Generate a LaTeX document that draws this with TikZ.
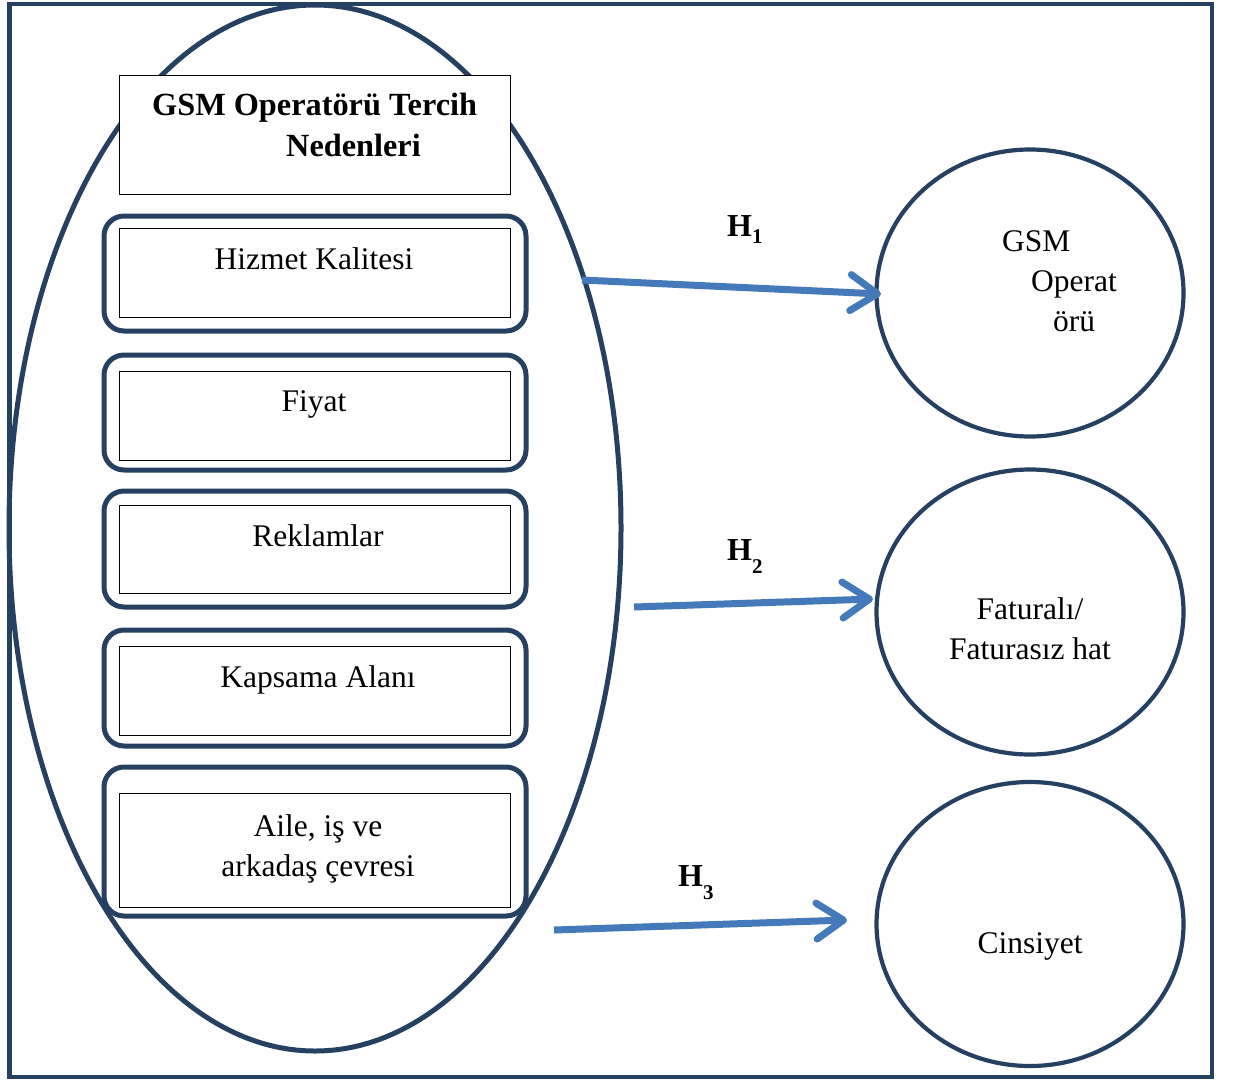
\documentclass[tikz,border=0pt]{standalone}
\usepackage{fontspec}
\setmainfont{Liberation Serif}
\usetikzlibrary{shapes.geometric,arrows.meta}
\definecolor{navy}{RGB}{38,64,97}
\definecolor{arrowblue}{RGB}{69,122,186}
\tikzset{
  txt/.style={font=\fontsize{31.5}{40}\selectfont, inner sep=0pt, align=center},
  outerbox/.style={draw=navy, line width=5pt, rounded corners=20pt},
  innerbox/.style={draw=black, line width=1.2pt, fill=white},
  target/.style={draw=navy, line width=4.2pt, ellipse, inner sep=0pt},
  hyp/.style={draw=arrowblue, line width=7pt, -{Straight Barb[length=27pt,width=36pt,round]}},
  hlabel/.style={font=\fontsize{32}{40}\selectfont\bfseries, inner sep=0pt}
}
\newcommand{\hsub}[2]{H\raisebox{#2}{\fontsize{21}{21}\selectfont #1}}
\begin{document}
\begin{tikzpicture}[x=1pt,y=-1pt]
\useasboundingbox (0,0) rectangle (1233,1081);
\fill[white] (0,0) rectangle (1233,1081);
% outer frame
\draw[navy, line width=4.8pt] (9.5,4) rectangle (1212,1077);
% big ellipse
\node[draw=navy, line width=5pt, ellipse, minimum width=612pt, minimum height=1046pt, inner sep=0pt] (big) at (315,528) {};
% title box
\node[innerbox, minimum width=391pt, minimum height=119pt, anchor=north west] (title) at (119,75) {};
\node[txt, font=\fontsize{32.3}{41}\selectfont\bfseries, align=left, anchor=north west] (titletxt) at (152,93) {GSM Operatörü Tercih\\\hspace*{134pt}Nedenleri};
% factor boxes
\draw[outerbox] (104,216) rectangle (526,331);
\node[innerbox, anchor=north west, minimum width=391pt, minimum height=89pt] (b1) at (119,228) {};
\node[txt] (t1) at (314,259) {Hizmet Kalitesi};

\draw[outerbox] (104,355) rectangle (526,470);
\node[innerbox, anchor=north west, minimum width=391pt, minimum height=89pt] (b2) at (119,371) {};
\node[txt] (t2) at (314,404) {Fiyat};

\draw[outerbox] (104,491) rectangle (526,607);
\node[innerbox, anchor=north west, minimum width=391pt, minimum height=88pt] (b3) at (119,505) {};
\node[txt] (t3) at (318,536) {Reklamlar};

\draw[outerbox] (104,630) rectangle (526,746);
\node[innerbox, anchor=north west, minimum width=391pt, minimum height=89pt] (b4) at (119,646) {};
\node[txt] (t4) at (318,680) {Kapsama Alanı};

\draw[outerbox] (104,767) rectangle (526,916);
\node[innerbox, anchor=north west, minimum width=391pt, minimum height=114pt] (b5) at (119,793) {};
\node[txt] (t5) at (318,849) {Aile, iş ve\\arkadaş çevresi};
% target ellipses
\node[target, minimum width=307pt, minimum height=287pt] (gsm) at (1030,293) {};
\node[txt, align=left, anchor=north west] (gsmtxt) at (1002,230) {GSM\\\hspace*{29pt}Operat\\\hspace*{51pt}örü};
\node[target, minimum width=307pt, minimum height=285pt] (fat) at (1030,612) {};
\node[txt] (fattxt) at (1030,629) {Faturalı/\\Faturasız hat};
\node[target, minimum width=307pt, minimum height=284pt] (cins) at (1030,924) {};
\node[txt] (cinstxt) at (1030,946) {Cinsiyet};
% arrows
\coordinate (s1) at (582,280);
\coordinate (e1) at (881,294);
\coordinate (s2) at (634,607);
\coordinate (e2) at (873,599);
\coordinate (s3) at (554,930);
\coordinate (e3) at (847,920);
\draw[hyp] (s1) -- (e1);
\draw[hyp] (s2) -- (e2);
\draw[hyp] (s3) -- (e3);
\node[hlabel, anchor=base west] (h1) at (727,236) {\hsub{1}{-0.22em}};
\node[hlabel, anchor=base west] (h2) at (727,560) {\hsub{2}{-0.42em}};
\node[hlabel, anchor=base west] (h3) at (678,886) {\hsub{3}{-0.42em}};
\end{tikzpicture}
\end{document}
